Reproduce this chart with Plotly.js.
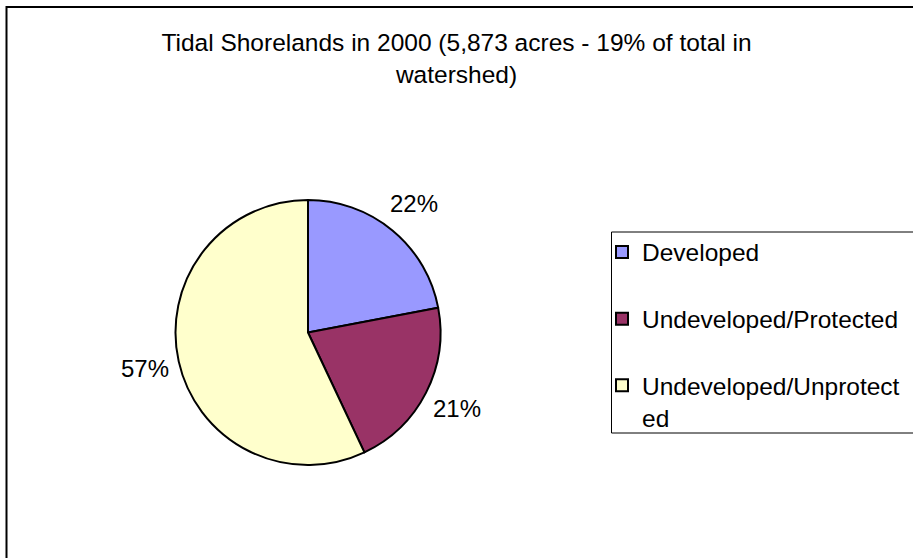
<!DOCTYPE html>
<html>
<head>
<meta charset="utf-8">
<script src="https://cdn.plot.ly/plotly-3.0.1.min.js"></script>
<style>
  html, body { margin: 0; padding: 0; background: #ffffff; }
  #chart { width: 913px; height: 558px; }
</style>
</head>
<body>
<div id="chart"></div>
<script>
// ---- data ----
var categories = ['Developed', 'Undeveloped/Protected', 'Undeveloped/Unprotected'];
var legendLabels = ['Developed<br>&nbsp;', 'Undeveloped/Protected<br>&nbsp;', 'Undeveloped/Unprotect<br>ed'];
var shares = [22, 21, 57];
var sliceColors = ['#9999FF', '#993366', '#FFFFCC'];
var chartTitle = 'Tidal Shorelands in 2000 (5,873 acres - 19% of total in<br>watershed)';

var W = 913, H = 558;
var cx = 308, cy = 332.5, r = 132.5;
var FONT = 'Liberation Sans, Arial, sans-serif';

var trace = {
  type: 'pie',
  labels: legendLabels,
  values: shares,
  customdata: categories,
  sort: false,
  direction: 'clockwise',
  rotation: 0,
  marker: { colors: sliceColors, line: { color: '#000000', width: 2 } },
  textinfo: 'none',
  hoverinfo: 'none',
  domain: { x: [(cx - r) / W, (cx + r) / W], y: [1 - (cy + r) / H, 1 - (cy - r) / H] }
};

// percent labels placed radially outside each slice (Excel style)
var total = shares.reduce(function (a, b) { return a + b; }, 0);
var annotations = [];
var cum = 0;
shares.forEach(function (v) {
  var mid = (cum + v / 2) / total * 2 * Math.PI; // clockwise from 12 o'clock
  cum += v;
  var dist = r * 1.26;
  var px = cx + dist * Math.sin(mid);
  var py = cy - dist * Math.cos(mid);
  annotations.push({
    xref: 'paper', yref: 'paper',
    x: px / W, y: 1 - py / H,
    xanchor: 'center', yanchor: 'middle',
    showarrow: false,
    text: Math.round(v / total * 100) + '%',
    font: { family: FONT, size: 24, color: '#000000' }
  });
});

var layout = {
  width: W, height: H,
  margin: { l: 0, r: 0, t: 0, b: 0 },
  paper_bgcolor: '#ffffff',
  font: { family: FONT, color: '#000000' },
  title: {
    text: chartTitle,
    x: 0.5, xanchor: 'center',
    y: 1 - 51 / H, yanchor: 'top',
    font: { family: FONT, size: 24.5, color: '#000000' }
  },
  showlegend: true,
  legend: {
    x: 602 / W, xanchor: 'left',
    y: 1 - 229.5 / H, yanchor: 'top',
    bgcolor: 'rgba(255,255,255,0)',
    borderwidth: 0,
    valign: 'top',
    font: { family: FONT, size: 24.5, color: '#000000' },
    traceorder: 'normal'
  },
  annotations: annotations,
  shapes: [
    {
      type: 'rect', xref: 'paper', yref: 'paper',
      x0: 6.5 / W, x1: 1.05, y0: -0.05, y1: 1 - 7 / H,
      line: { color: '#000000', width: 2 }, fillcolor: 'rgba(0,0,0,0)'
    },
    {
      type: 'rect', xref: 'paper', yref: 'paper', layer: 'below',
      x0: 611.5 / W, x1: 1.05, y0: 1 - 433 / H, y1: 1 - 232 / H,
      line: { color: '#000000', width: 1 }, fillcolor: '#ffffff'
    }
  ]
};

Plotly.newPlot('chart', [trace], layout, { displayModeBar: false, staticPlot: true });
</script>
</body>
</html>
